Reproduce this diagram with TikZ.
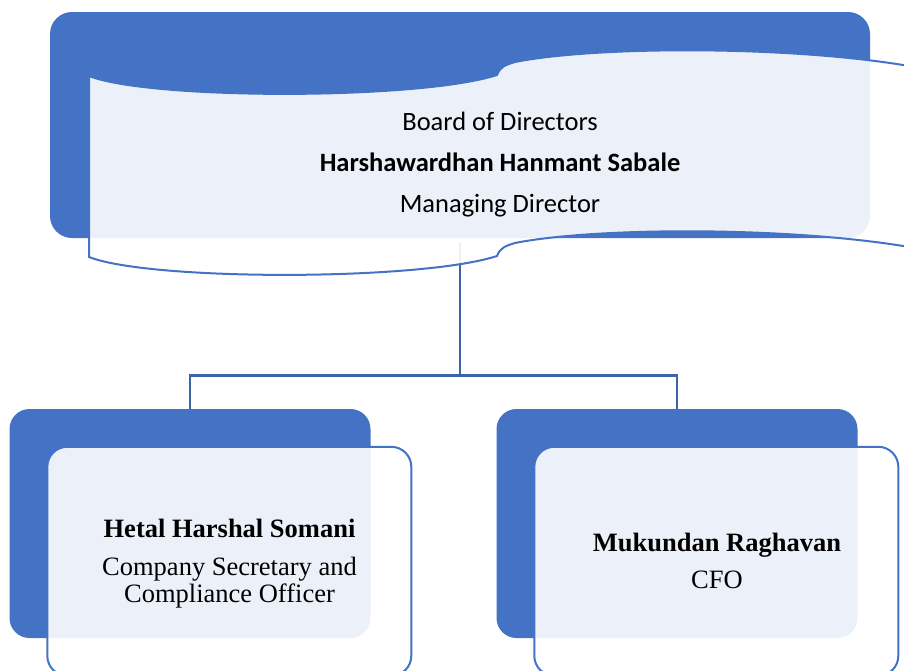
\documentclass[tikz,border=0pt]{standalone}
\usepackage{fontspec}
\setmainfont{Liberation Serif}
\newfontfamily\calibrifont{Carlito}
\usepackage{xcolor}
\definecolor{boxblue}{HTML}{4472C4}
\definecolor{linkblue}{RGB}{61,99,168}
\tikzset{
    bluebox/.style={
        fill=boxblue,
        draw=none,
        rounded corners=20pt,
        inner sep=0pt
    },
    paleframe/.style={
        draw=boxblue,
        line width=2pt,
        fill=white,
        fill opacity=0.9
    },
    connector/.style={
        draw=linkblue,
        line width=2.6pt
    },
    toptext/.style={
        font=\calibrifont\fontsize{26.5}{32}\selectfont,
        inner sep=0pt,
        anchor=base
    },
    lowtext/.style={
        font=\fontsize{26.5}{32}\selectfont,
        inner sep=0pt,
        anchor=base
    }
}

\begin{document}
\begin{tikzpicture}[x=1pt, y=-1pt]
  \useasboundingbox (0,0) rectangle (904,670);
  \clip (0,0) rectangle (904,670);

  % Blue backing boxes
  \node[bluebox, rounded corners=22pt, minimum width=820pt, minimum height=226pt] (bod) at (460,125) {};
  \foreach \name/\cx in {cs/190, cfo/677} {
    \node[bluebox, minimum width=361pt, minimum height=229pt] (\name) at (\cx,523.5) {};
  }

  % Connectors
  \draw[connector] ([yshift=-5pt]bod.south) -- ++(0,132) -| (cs.north);
  \draw[connector] ([yshift=-5pt]bod.south) -- ++(0,132) -| (cfo.north);

  % Pale frames
  \draw[paleframe] (89,76) .. controls (150,100) and (420,100) .. (497,75)
    .. controls (500,67) and (505,65) .. (515,62)
    .. controls (600,45) and (820,45) .. (940,72)
    -- (940,253)
    .. controls (820,226) and (600,226) .. (515,243)
    .. controls (505,246) and (500,248) .. (497,256)
    .. controls (420,281) and (150,281) .. (89,257) -- cycle;
  \foreach \name in {cs, cfo} {
    \draw[paleframe, rounded corners=20pt] ([xshift=38pt, yshift=-38pt]\name.north west) rectangle ++(364,229);
  }

  % Texts
  \node[toptext] (bodA) at (500,130) {Board of Directors};
  \node[toptext] (bodB) at (500,171) {\bfseries Harshawardhan Hanmant Sabale};
  \node[toptext] (bodC) at (500,212) {Managing Director};

  \node[lowtext] (csA) at (229.5,537) {\bfseries Hetal Harshal Somani};
  \node[lowtext] (csB) at (229.5,575) {Company Secretary and};
  \node[lowtext] (csC) at (229.5,602) {Compliance Officer};

  \node[lowtext] (cfoA) at (717,551) {\bfseries Mukundan Raghavan};
  \node[lowtext] (cfoB) at (717,588) {CFO};
\end{tikzpicture}
\end{document}
